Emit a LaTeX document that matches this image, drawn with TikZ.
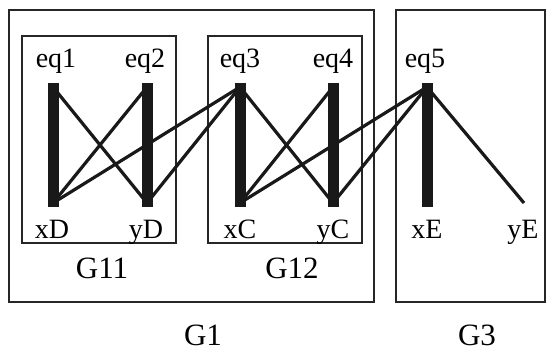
\documentclass[tikz,border=0pt]{standalone}
\usepackage{fontspec}
\setmainfont{Liberation Serif}
\begin{document}
\begin{tikzpicture}[x=1pt,y=-1pt,
  box/.style={draw=black!85,line width=2pt},
  eqlab/.style={anchor=base,inner sep=0pt,font=\fontsize{28}{28}\selectfont},
  varlab/.style={anchor=base,inner sep=0pt,font=\fontsize{28}{28}\selectfont},
  grplab/.style={anchor=base,inner sep=0pt,font=\fontsize{31}{31}\selectfont},
  match/.style={line width=11pt,line cap=butt,black!90},
  edge/.style={line width=3.2pt,black!90}]
\useasboundingbox (0,0) rectangle (547,354);
% group boxes
\draw[box] (9,10) rectangle (374,302);
\draw[box] (396,10) rectangle (545,302);
\draw[box] (22,36) rectangle (176,243);
\draw[box] (208,36) rectangle (362,243);
% labels
\node[eqlab] (leq1) at (56,67) {eq1};
\node[eqlab] (leq2) at (145,67) {eq2};
\node[eqlab] (leq3) at (240,67) {eq3};
\node[eqlab] (leq4) at (333,67) {eq4};
\node[eqlab] (leq5) at (425,67) {eq5};
\node[varlab] (lxD) at (52,238) {xD};
\node[varlab] (lyD) at (146,238) {yD};
\node[varlab] (lxC) at (240,238) {xC};
\node[varlab] (lyC) at (333,238) {yC};
\node[varlab] (lxE) at (427,238) {xE};
\node[varlab] (lyE) at (523,238) {yE};
\node[grplab] (lG11) at (102,278) {G11};
\node[grplab] (lG12) at (292,278) {G12};
\node[grplab] (lG1) at (203,345) {G1};
\node[grplab] (lG3) at (477,345) {G3};
% endpoints
\coordinate (eq1) at (53,87);
\coordinate (eq2) at (147,87);
\coordinate (eq3) at (240,87);
\coordinate (eq4) at (333,87);
\coordinate (eq5) at (427,87);
\coordinate (xD) at (53,203);
\coordinate (yD) at (147,203);
\coordinate (xC) at (240,203);
\coordinate (yC) at (333,203);
\coordinate (xE) at (427,203);
\coordinate (yE) at (524,203);
% thin edges
\draw[edge] (eq1) -- (yD);
\draw[edge] (eq2) -- (xD);
\draw[edge] (eq3) -- (xD);
\draw[edge] (eq3) -- (yD);
\draw[edge] (eq3) -- (yC);
\draw[edge] (eq4) -- (xC);
\draw[edge] (eq5) -- (xC);
\draw[edge] (eq5) -- (yC);
\draw[edge] (eq5) -- (yE);
% matching bars
\draw[match] ([yshift=4pt]eq1) -- ([yshift=-4pt]xD);
\draw[match] ([yshift=4pt]eq2) -- ([yshift=-4pt]yD);
\draw[match] ([yshift=4pt]eq3) -- ([yshift=-4pt]xC);
\draw[match] ([yshift=4pt]eq4) -- ([yshift=-4pt]yC);
\draw[match] ([yshift=4pt]eq5) -- ([yshift=-4pt]xE);
\end{tikzpicture}
\end{document}
